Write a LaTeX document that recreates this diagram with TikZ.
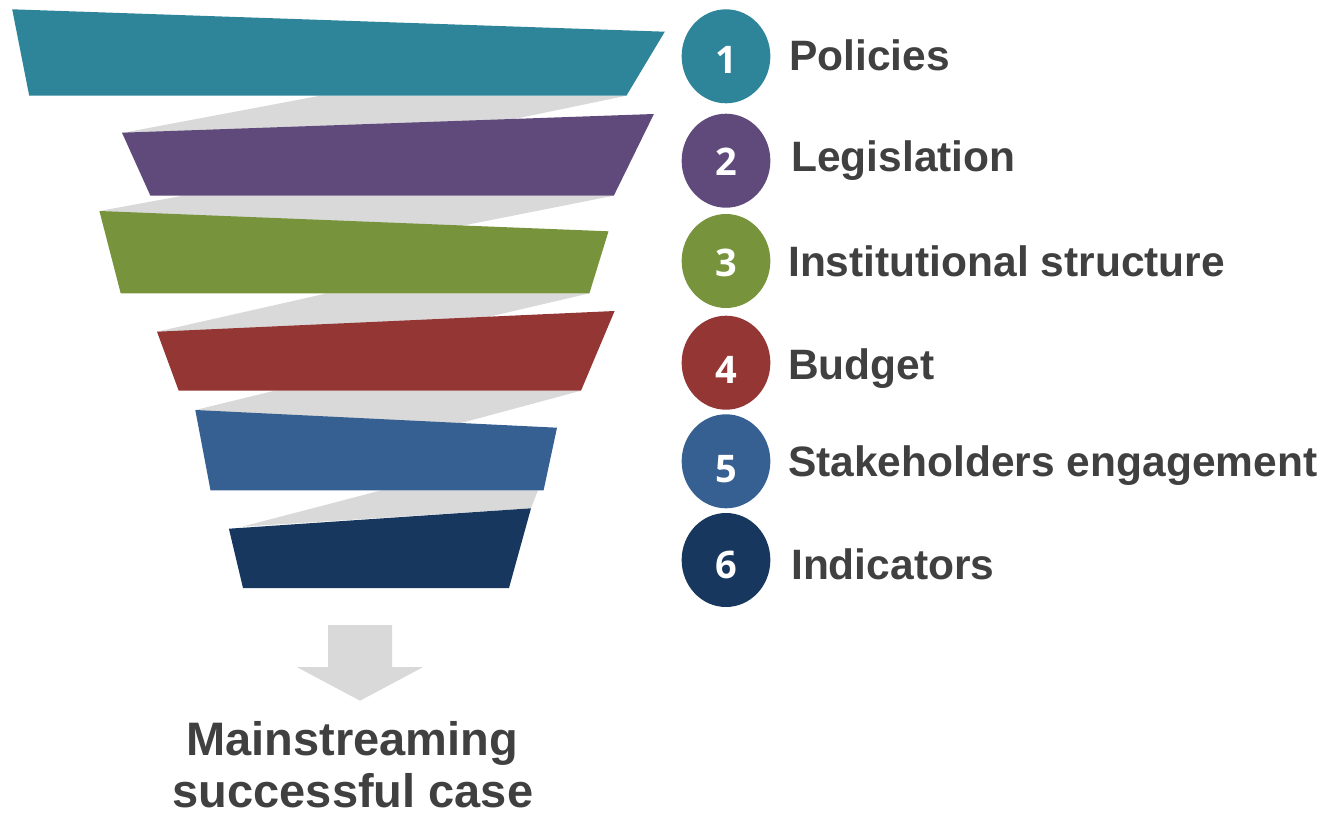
\documentclass[tikz,border=0pt]{standalone}
\usepackage{fontspec}
\setmainfont{Liberation Sans}
\newfontfamily\numfont{Open Sans}
\usetikzlibrary{shapes.geometric}
\definecolor{cteal}{HTML}{2E8499}
\definecolor{cpurple}{HTML}{5F4A7B}
\definecolor{cgreen}{HTML}{77933C}
\definecolor{cred}{HTML}{943634}
\definecolor{cblue}{HTML}{366092}
\definecolor{cnavy}{HTML}{17375E}
\definecolor{cgray}{HTML}{D9D9D9}
\definecolor{ctext}{HTML}{404040}
\tikzset{
  band/.style={fill=#1, draw=none},
  link/.style={fill=cgray, draw=none},
  badge/.style={ellipse, fill=#1, draw=none, minimum width=88.7pt, minimum height=94pt, inner sep=0pt},
  numtxt/.style={anchor=base, inner sep=0pt, text=white, font=\numfont\bfseries\fontsize{38}{40}\selectfont},
  lbl/.style={anchor=base west, inner sep=0pt, text=ctext, font=\bfseries\fontsize{42.5}{45}\selectfont},
  result/.style={anchor=base, inner sep=0pt, text=ctext, font=\bfseries\fontsize{47}{49}\selectfont}
}
\begin{document}
\begin{tikzpicture}[x=1pt,y=-1pt]
\useasboundingbox (0,0) rectangle (1322,817);
% gray connectors
\fill[link] (320,95.7) -- (626.4,95.7) -- (447,133) -- (122,133) -- cycle;
\fill[link] (183,195.7) -- (613.8,195.7) -- (390,240) -- (99.4,211) -- cycle;
\fill[link] (327,293.3) -- (589.4,293.3) -- (390,340) -- (157,331.7) -- cycle;
\fill[link] (274.6,390.7) -- (581,390.7) -- (398,440) -- (195.3,410) -- cycle;
\fill[link] (381.4,490.3) -- (538,490.3) -- (531,508.3) -- (242,526.7) -- cycle;
% funnel bands
\fill[band=cteal] (12.2,9.3) -- (664.8,31.7) -- (626.4,95.7) -- (29.2,95.7) -- cycle;
\fill[band=cpurple] (122,132.7) -- (653.9,114) -- (613.8,195.7) -- (150.4,195.7) -- cycle;
\fill[band=cgreen] (99.4,211) -- (608.5,231.3) -- (589.4,293.3) -- (120.7,293.3) -- cycle;
\fill[band=cred] (157,331.7) -- (614.6,311) -- (581,390.7) -- (178.7,390.7) -- cycle;
\fill[band=cblue] (195.3,410) -- (557,427.7) -- (543.6,490.3) -- (210.5,490.3) -- cycle;
\fill[band=cnavy] (228.9,528.7) -- (531,508.3) -- (509,588) -- (243,588) -- cycle;
% badges
\node[badge=cteal] (c1) at (726,56.3) {};
\node[badge=cpurple] (c2) at (726,160.7) {};
\node[badge=cgreen] (c3) at (726,261) {};
\node[badge=cred] (c4) at (726,362.7) {};
\node[badge=cblue] (c5) at (726,461.3) {};
\node[badge=cnavy] (c6) at (726,560) {};
\node[numtxt] (n1) at (726,73.3) {1};
\node[numtxt] (n2) at (726,175.7) {2};
\node[numtxt] (n3) at (726,276) {3};
\node[numtxt] (n4) at (726,383.3) {4};
\node[numtxt] (n5) at (726,482.7) {5};
\node[numtxt] (n6) at (726,578.3) {6};
% labels
\node[lbl] (l1) at (789,70) {Policies};
\node[lbl] (l2) at (791,171.7) {Legislation};
\node[lbl] (l3) at (788,276.7) {Institutional structure};
\node[lbl] (l4) at (788,379.3) {Budget};
\node[lbl] (l5) at (788,476.7) {Stakeholders engagement};
\node[lbl] (l6) at (791,579.3) {Indicators};
% arrow
\fill[cgray] (328,625) -- (392,625) -- (392,667) -- (423.3,667) -- (360,700.7) -- (296.7,667) -- (328,667) -- cycle;
% result
\node[result] (r1) at (352,755) {Mainstreaming};
\node[result] (r2) at (353,807.5) {successful case};
\end{tikzpicture}
\end{document}
